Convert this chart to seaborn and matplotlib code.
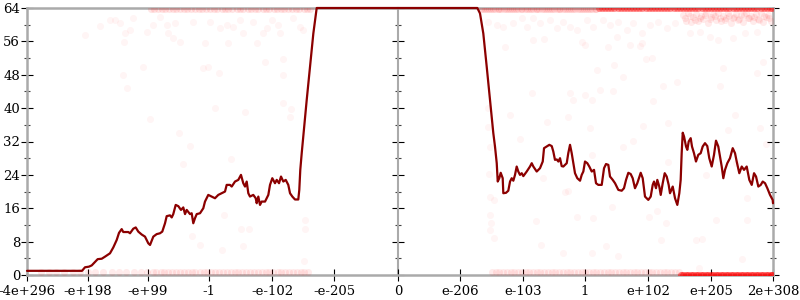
import matplotlib
matplotlib.use("Agg")
import matplotlib.pyplot as plt
import seaborn as sns
import pandas as pd
from matplotlib.ticker import MultipleLocator

# ---------------- data ----------------
tick_pos = [0, 0.981, 1.946, 2.928, 3.941, 4.938, 5.968, 6.965, 7.979, 8.976, 9.989, 11.003, 12.0]
tick_labels = ["-4e+296", "-e+198", "-e+99", "-1", "-e-102", "-e-205", "0",
               "e-206", "e-103", "1", "e+102", "e+205", "2e+308"]
y_ticks = [0, 8, 16, 24, 32, 40, 48, 56, 64]

line_x = [0.0, 0.885, 0.933, 0.997, 1.041, 1.137, 1.202, 1.255, 1.335, 1.388, 1.443, 1.480, 1.523, 1.549, 1.630,
          1.657, 1.710, 1.749, 1.790, 1.845, 1.898, 1.951, 1.979, 2.032, 2.086, 2.139, 2.176, 2.220, 2.247, 2.300,
          2.328, 2.353, 2.392, 2.434, 2.477, 2.514, 2.542, 2.569, 2.622, 2.649, 2.675, 2.702, 2.730, 2.783, 2.836,
          2.863, 2.916, 2.971, 3.024, 3.077, 3.132, 3.185, 3.212, 3.265, 3.293, 3.346, 3.399, 3.442, 3.479, 3.507,
          3.534, 3.560, 3.587, 3.640, 3.679, 3.695, 3.721, 3.748, 3.775, 3.829, 3.856, 3.882, 3.909, 3.946, 3.989,
          4.017, 4.054, 4.086, 4.123, 4.162, 4.203, 4.231, 4.268, 4.311, 4.364, 4.380, 4.396, 4.419, 4.499, 4.552,
          4.606, 4.660,
          7.244, 7.287, 7.340, 7.395, 7.448, 7.501, 7.528, 7.556, 7.572, 7.597, 7.620, 7.652, 7.662, 7.705, 7.742,
          7.770, 7.797, 7.823, 7.850, 7.877, 7.903, 7.930, 7.958, 7.984, 8.038, 8.091, 8.119, 8.145, 8.199, 8.252,
          8.296, 8.317, 8.360, 8.402, 8.441, 8.466, 8.493, 8.521, 8.547, 8.574, 8.601, 8.627, 8.682, 8.707, 8.735,
          8.762, 8.788, 8.815, 8.852, 8.896, 8.923, 8.949, 8.976, 9.013, 9.045, 9.084, 9.121, 9.153, 9.190, 9.245,
          9.282, 9.314, 9.351, 9.378, 9.422, 9.459, 9.512, 9.566, 9.603, 9.636, 9.673, 9.711, 9.743, 9.780, 9.817,
          9.872, 9.904, 9.941, 9.994, 10.033, 10.065, 10.086, 10.118, 10.139, 10.171, 10.194, 10.226, 10.258, 10.290,
          10.322, 10.343, 10.387, 10.424, 10.461, 10.493, 10.515, 10.531, 10.548, 10.569, 10.601, 10.622, 10.644,
          10.676, 10.697, 10.729, 10.761, 10.798, 10.837, 10.869, 10.906, 10.943, 10.975, 11.014, 11.051, 11.083,
          11.120, 11.148, 11.175, 11.201, 11.228, 11.265, 11.308, 11.352, 11.389, 11.416, 11.458, 11.497, 11.534,
          11.577, 11.619, 11.658, 11.695, 11.727, 11.764, 11.803, 11.835, 11.872, 11.909, 11.952, 11.995, 12.0]
line_y = [1.0, 1.0, 1.85, 2.0, 2.3, 3.8, 3.9, 4.4, 5.2, 6.6, 8.4, 10.1, 11.0, 10.3, 10.3,
          10.0, 11.1, 11.4, 10.4, 9.7, 9.2, 7.6, 7.2, 9.2, 9.8, 10.0, 10.4, 12.4, 14.1, 14.3,
          13.8, 14.6, 16.8, 16.5, 15.6, 16.2, 14.6, 15.6, 14.6, 14.8, 12.4, 13.6, 14.6, 14.8, 16.0,
          17.6, 19.2, 18.8, 18.4, 19.2, 19.6, 20.0, 21.6, 21.6, 21.2, 22.4, 22.8, 24.0, 22.0, 21.2,
          22.4, 19.6, 18.8, 19.2, 18.4, 17.2, 18.8, 16.8, 17.6, 17.6, 18.4, 19.2, 21.6, 23.2, 22.0,
          22.8, 22.0, 23.6, 22.4, 22.8, 21.6, 19.6, 18.8, 18.1, 18.1, 20.4, 25.2, 29.2, 41.9, 49.9,
          57.9, 64,
          64, 62.7, 57.9, 49.9, 41.9, 34.0, 30.8, 26.8, 22.4, 23.2, 24.5, 23.2, 19.6, 19.7, 20.2,
          22.4, 23.2, 22.6, 24.0, 26.0, 24.8, 24.0, 24.4, 23.7, 24.8, 26.0, 26.8, 26.0, 24.8, 25.6,
          27.2, 30.4, 30.8, 31.2, 30.9, 29.6, 27.6, 27.7, 27.2, 28.0, 26.1, 26.0, 26.8, 29.2, 31.2,
          29.2, 26.8, 24.4, 23.2, 22.6, 24.0, 24.8, 27.2, 26.8, 26.0, 24.8, 25.2, 22.0, 21.6, 21.6,
          25.6, 26.6, 26.4, 23.6, 22.8, 22.0, 20.4, 20.2, 20.8, 22.8, 24.5, 24.2, 23.2, 20.8, 22.0,
          24.5, 23.2, 18.8, 18.0, 18.8, 21.6, 22.4, 20.8, 22.8, 21.2, 19.2, 22.0, 24.4, 23.6,
          21.6, 19.6, 21.2, 18.4, 16.8, 19.6, 22.8, 29.2, 34.1, 33.2, 30.8, 30.0, 32.0,
          32.8, 30.8, 29.2, 27.2, 28.8, 29.2, 30.8, 31.6, 30.9, 28.0, 26.0, 28.8, 32.2,
          30.8, 28.4, 26.0, 23.2, 25.2, 26.8, 28.0, 30.4, 29.2, 27.2, 24.4, 26.0, 25.2,
          26.0, 22.8, 21.6, 24.4, 23.6, 21.2, 21.6, 22.4, 22.0, 20.8, 19.2, 18.0, 17.2]

# sparse individual sample points (x, error bits)
faint_pts = [
    (0.93, 57.5), (1.17, 59.7), (1.34, 61.2), (1.42, 61.2), (1.50, 60.4), (1.58, 57.9), (1.56, 55.9), (1.66, 58.7),
    (1.71, 61.5), (1.87, 49.9), (1.55, 47.9), (1.61, 44.8), (1.98, 37.4), (1.93, 58.3), (2.03, 59.9), (2.25, 59.9),
    (2.27, 58.0), (2.35, 56.8), (2.46, 55.9), (2.45, 34.0), (2.62, 30.9), (2.38, 60.4), (2.67, 60.7), (2.14, 61.9),
    (2.86, 55.6), (3.23, 55.6), (3.70, 55.6), (3.83, 51.1), (4.12, 51.7), (2.83, 49.6), (2.91, 49.9), (3.09, 48.4),
    (4.12, 47.9), (4.12, 41.2), (3.02, 40.0), (3.51, 39.1), (4.25, 39.8), (4.23, 37.9), (3.47, 58.0), (4.07, 58.0),
    (3.80, 58.0), (4.39, 59.4), (4.44, 58.7), (2.94, 60.7), (3.22, 59.9), (3.43, 61.2), (3.64, 60.7), (3.94, 61.2),
    (4.04, 59.9), (4.28, 61.6), (3.10, 59.2), (3.31, 59.4), (3.86, 59.2), (3.28, 27.8), (3.17, 14.4), (3.44, 11.0),
    (3.57, 11.0), (3.14, 6.0), (3.47, 7.0), (4.47, 13.2), (4.47, 11.0), (4.46, 3.4), (2.78, 7.2), (2.51, 26.6),
    (2.65, 9.4),
    (7.42, 60.7), (7.56, 59.9), (7.66, 59.4), (7.82, 60.4), (7.96, 61.6), (8.04, 59.4), (8.14, 61.6), (8.25, 60.4),
    (8.41, 61.2), (8.53, 59.2), (8.62, 60.7), (8.73, 59.4), (8.85, 58.7), (9.01, 61.2), (9.10, 59.4), (8.14, 56.3),
    (8.32, 56.6), (8.93, 55.9), (8.98, 55.1), (7.69, 54.7), (9.17, 49.1), (8.12, 43.6), (8.73, 43.6), (8.98, 43.1),
    (8.78, 41.9), (9.09, 41.9), (7.77, 38.4), (8.70, 37.9), (8.36, 36.7), (9.06, 35.2), (7.42, 40.0), (7.42, 35.5),
    (7.93, 32.6), (7.45, 30.7), (7.43, 24.2), (7.45, 18.7), (7.51, 18.0), (7.45, 14.4), (7.46, 12.5), (7.45, 10.8),
    (7.51, 8.9), (8.30, 23.2), (8.65, 19.9), (8.70, 20.1), (9.09, 28.8), (8.85, 13.9), (9.10, 13.7), (8.19, 12.9),
    (8.27, 7.2), (8.62, 5.3), (9.09, 5.3), (9.41, 16.3), (9.31, 7.0), (9.51, 4.6), (10.01, 13.9), (10.13, 15.3),
    (10.28, 12.5), (10.20, 8.4), (10.31, 27.1), (10.92, 24.0), (10.76, 8.4), (10.86, 8.6), (11.08, 13.2),
    (10.81, 1.7), (11.58, 18.5), (11.58, 13.2), (11.50, 3.8), (11.41, 26.8),
    (9.35, 54.7), (9.70, 55.1), (9.86, 54.9), (9.96, 51.7), (10.05, 51.9), (9.44, 50.3), (9.59, 47.4), (9.43, 44.1),
    (9.22, 44.3), (10.23, 45.3), (10.46, 46.3), (10.07, 41.7), (11.20, 49.6), (11.15, 45.3), (11.74, 48.4),
    (11.84, 51.1), (11.39, 38.4), (9.91, 35.7), (10.31, 36.4), (11.28, 34.8), (11.79, 35.2), (9.75, 32.1),
    (9.59, 30.7), (11.89, 31.4),
    (9.27, 61.2), (9.38, 59.9), (9.51, 60.7), (9.65, 58.7), (9.75, 60.4), (9.89, 58.0), (10.02, 59.9), (10.15, 60.7),
    (10.30, 59.2), (10.42, 60.4), (9.49, 57.1), (9.89, 55.6), (10.66, 58.0), (10.99, 57.1), (11.12, 56.3),
    (11.36, 56.8), (11.74, 58.3), (11.55, 58.0), (10.83, 58.3),
]

# dense cloud of high-error points on the far right
cloud_pts = [
    (10.56, 62.4), (10.60, 61.0), (10.64, 62.8), (10.68, 60.6), (10.72, 61.8), (10.76, 62.6), (10.80, 60.9),
    (10.84, 62.2), (10.88, 61.4), (10.92, 62.9), (10.96, 60.5), (11.00, 61.9), (11.04, 62.5), (11.08, 61.2),
    (11.12, 62.7), (11.16, 60.8), (11.20, 62.1), (11.24, 61.5), (11.28, 62.9), (11.32, 60.4), (11.36, 61.7),
    (11.40, 62.6), (11.44, 61.1), (11.48, 62.3), (11.52, 60.7), (11.56, 62.8), (11.60, 61.6), (11.64, 62.0),
    (11.68, 60.9), (11.72, 62.5), (11.76, 61.3), (11.80, 62.7), (11.84, 60.6), (11.88, 61.9), (11.92, 62.4),
    (11.96, 61.0), (10.58, 61.6), (10.66, 62.1), (10.74, 61.2), (10.82, 61.7), (10.90, 62.3), (10.98, 61.4),
    (11.06, 62.0), (11.14, 61.6), (11.22, 61.1), (11.30, 62.2), (11.38, 61.8), (11.46, 61.3), (11.54, 62.4),
    (11.62, 61.5), (11.70, 61.9), (11.78, 61.2), (11.86, 62.1), (11.94, 61.7),
]

# points with (nearly) maximal error
top_level = 63.8
top_band_x = [2.0, 2.05, 2.11, 2.17, 2.22, 2.28, 2.35, 2.4, 2.46, 2.53, 2.58, 2.64, 2.7, 2.77, 2.82, 2.88, 2.95,
              3.0, 3.06, 3.13, 3.18, 3.24, 3.3, 3.37, 3.42, 3.48, 3.55, 3.6, 3.66, 3.72, 3.79, 3.84, 3.9, 3.97,
              4.02, 4.08, 4.14, 4.2, 4.27, 4.32, 4.38, 4.45, 4.5, 4.56,
              7.3, 7.33, 7.36, 7.4, 7.43, 7.46, 7.5, 7.53, 7.57, 7.6, 7.63, 7.67, 7.7, 7.74, 7.77, 7.8, 7.84,
              7.87, 7.9, 7.94, 7.97, 8.01, 8.04, 8.07, 8.11, 8.14, 8.18, 8.21, 8.24, 8.28, 8.31, 8.35, 8.38,
              8.41, 8.45, 8.48, 8.52, 8.55, 8.58, 8.62, 8.65, 8.69, 8.72, 8.75, 8.79, 8.82, 8.86, 8.89, 8.92,
              8.96, 8.99, 9.03, 9.06, 9.09, 9.13, 9.16]

# points with (nearly) zero error
bottom_level = 0.8
bottom_band_x = [0.22, 0.35, 0.47, 0.6, 0.74, 0.86, 0.98, 1.1, 1.23, 1.36, 1.48, 1.6, 1.72, 1.83, 1.93, 2.02,
                 2.08, 2.15, 2.21, 2.27, 2.34, 2.4, 2.46, 2.52, 2.59, 2.65, 2.71, 2.78, 2.84, 2.9, 2.96, 3.03,
                 3.09, 3.15, 3.21, 3.28, 3.34, 3.4, 3.46, 3.53, 3.59, 3.65, 3.71, 3.78, 3.84, 3.9, 3.96, 4.03,
                 4.09, 4.15, 4.21, 4.28, 4.34, 4.4, 4.46, 4.52,
                 7.48, 7.54, 7.6, 7.66, 7.72, 7.78, 7.84, 7.9, 7.96, 8.02, 8.08, 8.14, 8.2, 8.26, 8.32, 8.38,
                 8.44, 8.5, 8.56, 8.62, 8.68, 8.74, 8.8, 8.86, 8.92, 8.98, 9.04, 9.1, 9.16, 9.22, 9.28, 9.34,
                 9.4, 9.46, 9.52, 9.58, 9.64, 9.7, 9.76, 9.82, 9.88, 9.94, 10.0, 10.06, 10.12, 10.18, 10.24,
                 10.3, 10.36, 10.42, 10.48]

# heavily overlapping exact-0 / exact-64 points (right side)
exact_zero_x = [10.52, 10.56, 10.6, 10.64, 10.68, 10.72, 10.76, 10.8, 10.84, 10.88, 10.92, 10.96, 11.0, 11.04,
                11.08, 11.12, 11.16, 11.2, 11.24, 11.28, 11.32, 11.36, 11.4, 11.44, 11.48, 11.52, 11.56, 11.6,
                11.64, 11.68, 11.72, 11.76, 11.8, 11.84, 11.88, 11.92, 11.96, 11.99]
exact_max_x = [9.2, 9.25, 9.3, 9.35, 9.4, 9.45, 9.5, 9.55, 9.6, 9.65, 9.7, 9.75, 9.8, 9.85, 9.9, 9.95, 10.0,
               10.05, 10.1, 10.15, 10.2, 10.25, 10.3, 10.35, 10.4, 10.45, 10.5, 10.55, 10.6, 10.65, 10.7, 10.75,
               10.8, 10.85, 10.9, 10.95, 11.0, 11.05, 11.1, 11.15, 11.2, 11.25, 11.3, 11.35, 11.4, 11.45, 11.5,
               11.55, 11.6, 11.65, 11.7, 11.75, 11.8, 11.85, 11.9, 11.95, 11.99]

# ---------------- plotting ----------------
sns.set_style("white")
plt.rcParams["font.family"] = ["DejaVu Serif"]
plt.rcParams["font.size"] = 9.5

fig = plt.figure(figsize=(8, 3), dpi=100)
ax = fig.add_axes([27 / 800, 25 / 300, 746 / 800, 267 / 300])

RED = "#ff0000"
MS = 26

fx, fy = zip(*faint_pts)
sns.scatterplot(x=list(fx), y=list(fy), ax=ax, color=RED, alpha=0.04, s=MS, linewidth=0, zorder=3, legend=False)
cx, cy = zip(*cloud_pts)
sns.scatterplot(x=list(cx), y=list(cy), ax=ax, color=RED, alpha=0.08, s=MS, linewidth=0, zorder=3, legend=False)
sns.scatterplot(x=top_band_x, y=[top_level] * len(top_band_x), ax=ax, color=RED, alpha=0.1, s=MS,
                linewidth=0, zorder=3, legend=False)
sns.scatterplot(x=bottom_band_x, y=[bottom_level] * len(bottom_band_x), ax=ax, color=RED, alpha=0.08, s=MS,
                linewidth=0, zorder=3, legend=False)
sns.scatterplot(x=exact_zero_x, y=[0] * len(exact_zero_x), ax=ax, color=RED, alpha=0.5, s=MS,
                linewidth=0, zorder=3, legend=False)
sns.scatterplot(x=exact_max_x, y=[64] * len(exact_max_x), ax=ax, color=RED, alpha=0.4, s=MS,
                linewidth=0, zorder=3, legend=False)

line_df = pd.DataFrame({"x": line_x, "y": line_y})
sns.lineplot(data=line_df, x="x", y="y", sort=False, estimator=None, color="#8b0000", linewidth=1.6,
             ax=ax, zorder=5, clip_on=False)

ax.set_xlim(0, 12)
ax.set_ylim(0, 64)
ax.set_xlabel("")
ax.set_ylabel("")

for s in ax.spines.values():
    s.set_visible(True)
    s.set_color("#aaaaaa")
    s.set_linewidth(1.8)

ax.set_xticks(tick_pos)
ax.set_xticklabels(tick_labels)
ax.set_yticks(y_ticks)
ax.yaxis.set_minor_locator(MultipleLocator(4))
ax.tick_params(axis="both", which="major", direction="inout", length=8, width=0.8, color="black",
               labelcolor="black", labelsize=9.5)
ax.tick_params(axis="y", which="both", left=True, right=True)
ax.tick_params(axis="y", which="minor", direction="inout", length=4.5, width=0.8, color="#444444")
ax.tick_params(axis="y", which="major", pad=1)
ax.tick_params(axis="x", which="major", bottom=True, top=False, pad=3)

# central vertical axis at x = 0
sec = ax.secondary_yaxis(tick_pos[6] / 12.0)
sec.set_yticks(y_ticks)
sec.yaxis.set_minor_locator(MultipleLocator(4))
sec.tick_params(which="major", direction="inout", length=8, width=0.8, color="black",
                labelleft=False, labelright=False)
sec.tick_params(which="minor", direction="inout", length=4.5, width=0.8, color="#444444")
for s in sec.spines.values():
    s.set_color("#aaaaaa")
    s.set_linewidth(1.5)

fig.savefig("out.png", dpi=100)
